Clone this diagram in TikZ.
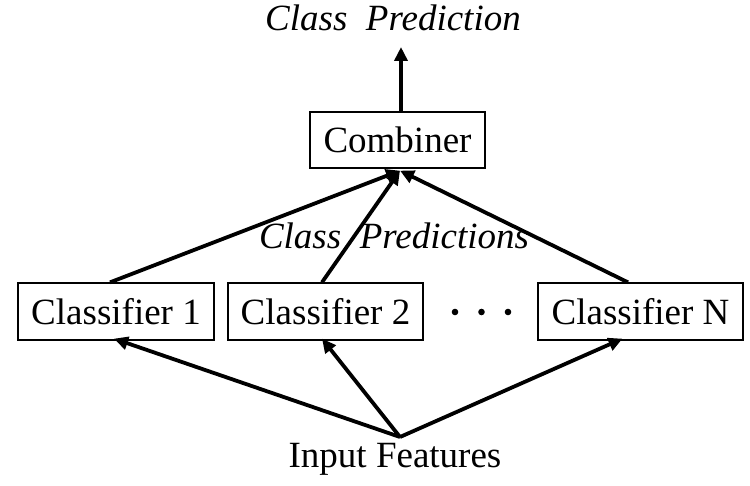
\documentclass[tikz,border=0pt]{standalone}
\usepackage{fontspec}
\setmainfont{Liberation Serif}
\usetikzlibrary{arrows.meta}

\tikzset{
  box/.style={draw=black, line width=1.3pt, inner sep=0pt, font=\fontsize{37}{40}\selectfont},
  lbl/.style={inner sep=0pt, font=\fontsize{37}{40}\selectfont},
  flow/.style={line width=3.8pt, -{Triangle[length=14pt,width=13pt]}},
}

\begin{document}
\begin{tikzpicture}[x=1pt,y=-1pt]
  \useasboundingbox (0,0) rectangle (750,486);
  \fill[white] (0,0) rectangle (750,486);

  % output label
  \node[lbl, anchor=base] (out) at (393,31) {\itshape Class\hspace{0.5em}Prediction};
  \coordinate (outtip) at (401,47);

  % combiner
  \node[box, minimum width=175pt, minimum height=56pt] (comb) at (397.5,140) {Combiner};

  % intermediate label
  \node[lbl, anchor=base] (mid) at (394,249) {\itshape Class\hspace{0.5em}Predictions};

  % classifiers
  \node[box, minimum width=196pt, minimum height=57pt] (c1) at (116,311.5) {Classifier 1};
  \node[box, minimum width=195pt, minimum height=57pt] (c2) at (325.5,311.5) {Classifier 2};
  \node[box, minimum width=205pt, minimum height=57pt] (cn) at (640.5,311.5) {Classifier N};

  % ellipsis between classifier 2 and N
  \foreach \k/\x in {1/455,2/481.5,3/508} {
    \fill (\x,312) circle (3.3pt);
  }

  % input label
  \node[lbl, anchor=base] (inp) at (395,467) {Input Features};
  \coordinate (src) at (400,437);

  % classifier outputs into combiner
  \draw[flow] ([xshift=-6pt]c1.north) -- ([xshift=2.5pt,yshift=-2pt]comb.south);
  \draw[flow] ([xshift=-3.5pt]c2.north) -- ([xshift=2.5pt,yshift=-2pt]comb.south);
  \draw[flow] ([xshift=-12.5pt]cn.north) -- ([xshift=2.5pt,yshift=-2pt]comb.south);

  % combiner output
  \draw[flow] (comb.north -| outtip) -- (outtip);

  % input features into classifiers
  \draw[flow] (src) -- ([xshift=-2pt,yshift=2pt]c1.south);
  \draw[flow] (src) -- ([xshift=-3.5pt,yshift=2pt]c2.south);
  \draw[flow] (src) -- ([xshift=-18pt,yshift=2pt]cn.south);
\end{tikzpicture}
\end{document}
